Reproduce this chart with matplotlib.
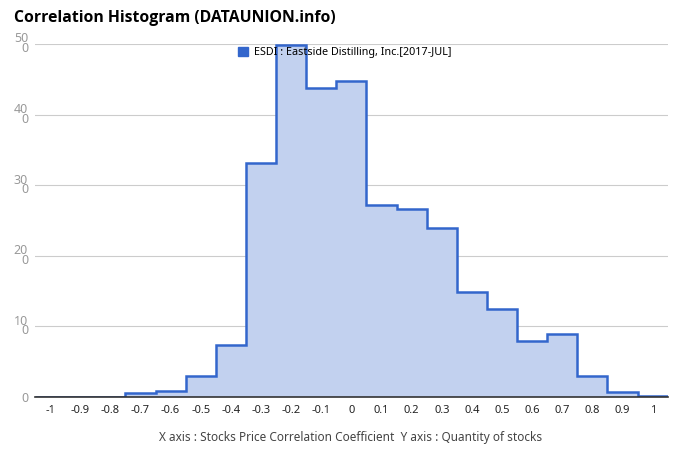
import matplotlib
matplotlib.use('Agg')
import numpy as np
import matplotlib.pyplot as plt

#--data (quantity of stocks per correlation bin)
bins   = [-1.0,-0.9,-0.8,-0.7,-0.6,-0.5,-0.4,-0.3,-0.2,-0.1,0.0,
          0.1,0.2,0.3,0.4,0.5,0.6,0.7,0.8,0.9,1.0]
counts = [0,0,0,5,8,30,74,332,499,437,447,
          272,266,239,149,124,80,89,30,7,2]
xticks = [-1,-0.9,-0.8,-0.7,-0.6,-0.5,-0.4,-0.3,-0.2,-0.1,0,
          0.1,0.2,0.3,0.4,0.5,0.6,0.7,0.8,0.9,1]
yticks = [0,100,200,300,400,500]
title  = 'Correlation Histogram (DATAUNION.info)'
label  = 'ESDI : Eastside Distilling, Inc.[2017-JUL]'
note   = 'X axis : Stocks Price Correlation Coefficient  Y axis : Quantity of stocks'

plt.rcParams['font.family'] = ['Noto Sans', 'DejaVu Sans']

fig = plt.figure(figsize=(6.8,4.62), dpi=100)
ax  = fig.add_axes([0.0515,0.1407,0.9305,0.7641])

edges = np.concatenate([np.array(bins)-0.05,[bins[-1]+0.05]])
ax.stairs(counts, edges, fill=True, color='#c2d1ef', lw=0)
ax.stairs(counts, edges, baseline=None, color='#3366cc', lw=1.8, label=label)

ax.set_xlim(-1.05,1.05)
ax.set_ylim(0,500)
ax.set_xticks(xticks)
ax.set_xticklabels(['%g'%t for t in xticks], fontsize=8, color='#222222')
ax.set_yticks(yticks)
ylab = ['0' if t == 0 else str(t)[:2]+'\n'+str(t)[2:] for t in yticks]
ax.set_yticklabels(ylab, fontsize=9, color='#999999', linespacing=0.65)
ax.tick_params(axis='both', length=0, pad=6)
ax.tick_params(axis='y', pad=5)
ax.grid(axis='y', color='#cccccc', lw=0.8)
ax.set_axisbelow(True)
for s in ['top','right','left']:
    ax.spines[s].set_visible(False)
ax.spines['bottom'].set_color('#333333')
ax.spines['bottom'].set_linewidth(1.2)
ax.spines['bottom'].set_zorder(5)

h = plt.Rectangle((0,0),1,1,color='#3366cc')
ax.legend([h],[label], loc='upper center', bbox_to_anchor=(0.49,1.02), frameon=False,
          fontsize=7.8, handlelength=0.9, handleheight=0.9, handletextpad=0.6)

fig.text(14/680, 1-18/462, title, fontsize=11.3, fontweight='bold', va='center', ha='left',
         family=['Open Sans','DejaVu Sans'])
fig.text(351/680, 1-437/462, note, fontsize=8.5, color='#444444', va='center', ha='center')

fig.savefig('out.png', dpi=100)
